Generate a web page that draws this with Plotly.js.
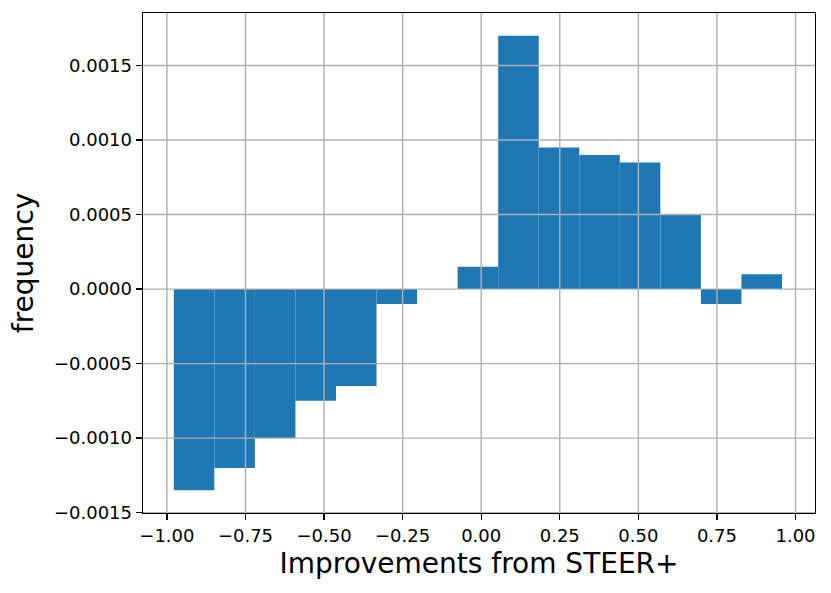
<!DOCTYPE html>
<html>
<head>
<meta charset="utf-8">
<script src="https://cdn.plot.ly/plotly-3.0.1.min.js"></script>
<style>html,body{margin:0;padding:0;background:#fff;}#chart{width:831px;height:593px;}</style>
</head>
<body>
<div id="chart"></div>
<script>
// Histogram bins (left edges) and frequency values
const binLeftEdges = [-0.978, -0.849, -0.720, -0.591, -0.462, -0.333, -0.204, -0.075, 0.054, 0.183, 0.312, 0.441, 0.570, 0.699, 0.828];
const binWidth = 0.129;
const frequency = [-0.00135, -0.0012, -0.0010, -0.00075, -0.00065, -0.0001, 0.0, 0.00015, 0.0017, 0.00095, 0.0009, 0.00085, 0.0005, -0.0001, 0.0001];
const xTicks = [-1.0, -0.75, -0.5, -0.25, 0.0, 0.25, 0.5, 0.75, 1.0];
const yTicks = [-0.0015, -0.0010, -0.0005, 0.0, 0.0005, 0.0010, 0.0015];
const xLabel = 'Improvements from STEER+';
const yLabel = 'frequency';

const trace = {
  type: 'bar',
  x: binLeftEdges,
  y: frequency,
  width: binWidth,
  offset: 0,
  marker: {color: '#1f77b4', line: {width: 0}},
  hoverinfo: 'x+y'
};

const gridColor = '#b0b0b0';
const shapes = [];
xTicks.forEach(v => shapes.push({type: 'line', xref: 'x', yref: 'paper', x0: v, x1: v, y0: 0, y1: 1, layer: 'above', line: {color: gridColor, width: 1.4}}));
yTicks.forEach(v => shapes.push({type: 'line', xref: 'paper', yref: 'y', x0: 0, x1: 1, y0: v, y1: v, layer: 'above', line: {color: gridColor, width: 1.4}}));

const font = 'DejaVu Sans, sans-serif';
const layout = {
  width: 831, height: 593,
  margin: {l: 143, r: 16, t: 13, b: 80},
  paper_bgcolor: '#fff', plot_bgcolor: '#fff',
  showlegend: false,
  font: {family: font, color: '#000', size: 18},
  xaxis: {
    range: [-1.076, 1.062],
    tickvals: xTicks, tickformat: '.2f',
    showgrid: false, zeroline: false,
    showline: true, mirror: true, linecolor: '#000', linewidth: 1.4,
    ticks: 'outside', ticklen: 6, tickwidth: 1.4, tickcolor: '#000',
    tickfont: {family: font, size: 18, color: '#000'},
    title: {text: xLabel, font: {family: font, size: 28, color: '#000'}, standoff: 8}
  },
  yaxis: {
    range: [-0.0015025, 0.0018525],
    tickvals: yTicks, tickformat: '.4f',
    showgrid: false, zeroline: false,
    showline: true, mirror: true, linecolor: '#000', linewidth: 1.4,
    ticks: 'outside', ticklen: 6, tickwidth: 1.4, tickcolor: '#000',
    tickfont: {family: font, size: 18, color: '#000'},
    title: {text: yLabel, font: {family: font, size: 28, color: '#000'}, standoff: 12}
  },
  shapes: shapes
};

Plotly.newPlot('chart', [trace], layout, {displayModeBar: false, staticPlot: true});
</script>
</body>
</html>
